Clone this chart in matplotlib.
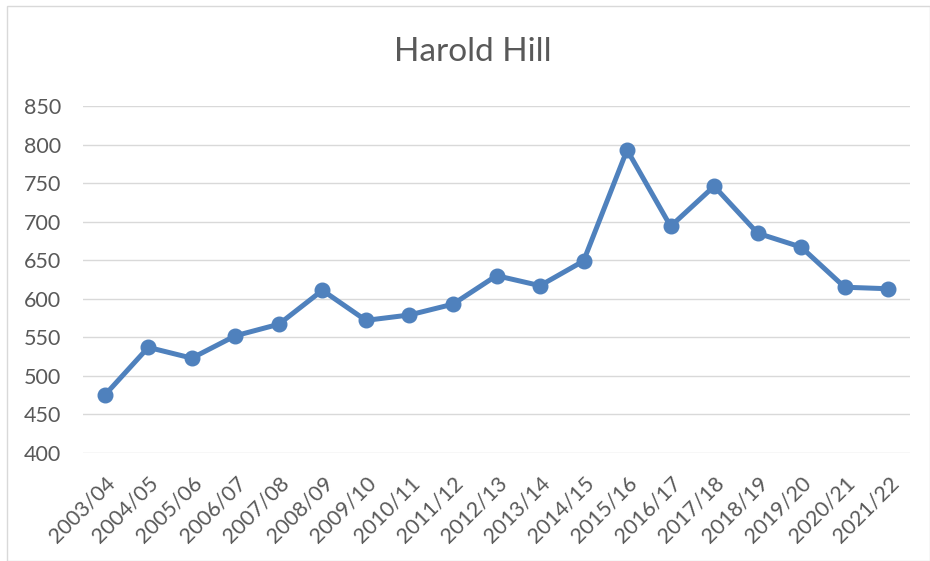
import matplotlib
matplotlib.use("Agg")
import matplotlib.pyplot as plt
from matplotlib.patches import Rectangle

years = ["2003/04", "2004/05", "2005/06", "2006/07", "2007/08", "2008/09",
         "2009/10", "2010/11", "2011/12", "2012/13", "2013/14", "2014/15",
         "2015/16", "2016/17", "2017/18", "2018/19", "2019/20", "2020/21",
         "2021/22"]
values = [475, 537, 523, 552, 567, 611, 572, 579, 593, 630, 617, 649,
          793, 694, 746, 685, 667, 615, 613]

yticks = [400, 450, 500, 550, 600, 650, 700, 750, 800, 850]

plt.rcParams['font.family'] = ['Lato', 'DejaVu Sans']
txt = '#595959'

W, H = 930, 561
fig = plt.figure(figsize=(W / 100, H / 100), dpi=100)
fig.patches.append(Rectangle((7 / W, 0.0), (W - 7) / W, 1 - 6 / H,
                             transform=fig.transFigure, fill=False,
                             edgecolor='#D9D9D9', linewidth=1))

ax = fig.add_axes([83 / W, 1 - 453 / H, (910 - 83) / W, (453 - 106) / H])
x = range(len(years))
ax.plot(x, values, color='#4F81BD', linewidth=3.6, marker='o',
        markersize=10.5, solid_joinstyle='round', zorder=3)

ax.set_xlim(-0.5, len(years) - 0.5)
ax.set_ylim(400, 850)
ax.set_yticks(yticks)
ax.set_yticklabels([str(v) for v in yticks], fontsize=15.5, color=txt)
ax.set_xticks(list(x))
ax.set_xticklabels(years, rotation=45, ha='right', rotation_mode='anchor',
                   fontsize=15.5, color=txt)
ax.tick_params(axis='both', length=0)
ax.tick_params(axis='y', pad=16)
ax.tick_params(axis='x', pad=14)
ax.grid(axis='y', color='#D9D9D9', linewidth=1)
ax.set_axisbelow(True)
for s in ax.spines.values():
    s.set_visible(False)

fig.text(473 / W, 1 - 52 / H, "Harold Hill", ha='center', va='center',
         fontsize=24, color=txt)

fig.savefig("out.png", dpi=100)
